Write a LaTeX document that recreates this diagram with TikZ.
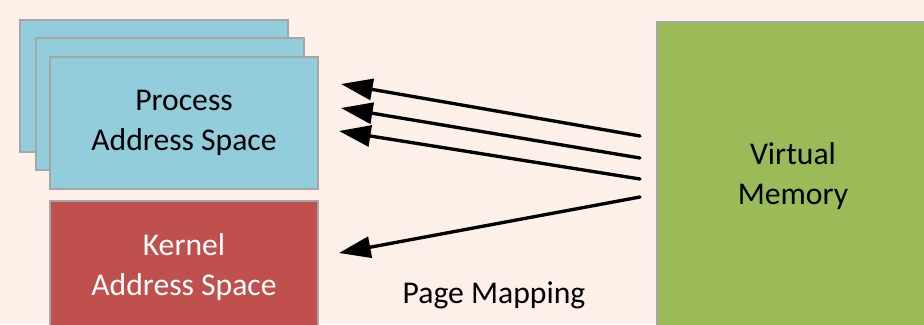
\documentclass[tikz,border=0pt]{standalone}
\usepackage{fontspec}
\setmainfont{Carlito}
\usepackage{tikz}
\usetikzlibrary{positioning,arrows.meta}
\definecolor{bgpeach}{RGB}{253,240,232}
\definecolor{pblue}{RGB}{146,205,220}
\definecolor{kred}{RGB}{192,80,77}
\definecolor{vgreen}{RGB}{155,187,89}
\definecolor{egray}{RGB}{166,166,166}
\tikzset{
  as/.style={rectangle, draw=egray, line width=0.6pt, minimum width=2.68cm, minimum height=1.32cm, inner sep=0pt, align=center, font=\fontsize{9}{11.2}\selectfont},
  pas/.style={as, fill=pblue},
  kas/.style={as, fill=kred, text=white},
  vms/.style={as, fill=vgreen, minimum width=2.72cm, minimum height=3.08cm},
  mp/.style={-{Triangle[length=9pt,width=6pt]}, line width=0.95pt, line cap=round},
  lbl/.style={font=\fontsize{9}{11.2}\selectfont}
}
\begin{document}
\begin{tikzpicture}[x=0.01cm,y=-0.01cm]
        \fill[bgpeach] (0,0) rectangle (924,324);
        \useasboundingbox (0,0) rectangle (924,324);
        % stacked process spaces
        \node[pas] (p1) at (154,86) {};
        \node[pas] (p2) at (170,104) {};
        \node[pas] (p3) at (184,123) {Process\\Address Space};
        \node[kas, below=0.1cm of p3] (k) {Kernel\\Address Space};
        \node[vms] (vm) at (793,176) {Virtual\\Memory};
        \coordinate (t1) at (640,136);
        \coordinate (t2) at (640,158);
        \coordinate (t3) at (640,179);
        \coordinate (t4) at (640,197);
        \coordinate (h1) at (341,84);
        \coordinate (h2) at (341,108);
        \coordinate (h3) at (339,131);
        \coordinate (h4) at (339,253);
        \draw[mp] (t1)--(h1);
        \draw[mp] (t2)--(h2);
        \draw[mp] (t3)--(h3);
        \draw[mp] (t4)--(h4);
        \node[lbl] (pm) at (494,295) {Page Mapping};
      \end{tikzpicture}
\end{document}
